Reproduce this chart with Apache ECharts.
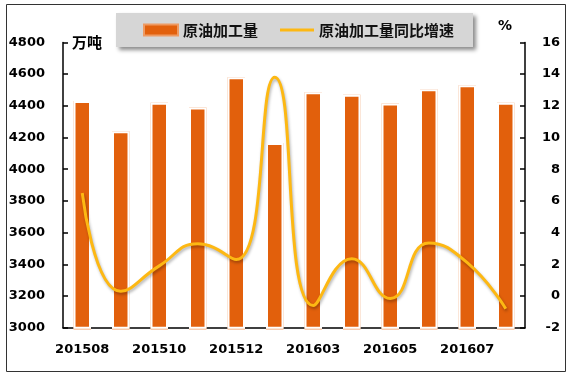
<!DOCTYPE html>
<html>
<head>
<meta charset="utf-8">
<script src="https://cdn.jsdelivr.net/npm/echarts@6/dist/echarts.min.js"></script>
<style>
html,body{margin:0;padding:0;background:#fff;}
#main{width:572px;height:382px;}
</style>
</head>
<body>
<div id="main"></div>
<script>
var categories = ['201508','201509','201510','201511','201512','201602','201603','201604','201605','201606','201607','201608'];
var volume = [4430, 4240, 4420, 4390, 4580, 4165, 4485, 4470, 4415, 4505, 4530, 4420];
var growth = [6.5, 0.3, 1.9, 3.3, 2.3, 13.8, -0.6, 2.35, -0.15, 3.35, 2.1, -0.8];
var volName = '原油加工量';
var growthName = '原油加工量同比增速';
var leftUnit = '万吨';
var rightUnit = '%';

var chart = echarts.init(document.getElementById('main'));
var numFont = {fontFamily: 'DejaVu Sans', fontWeight: 'bold', fontSize: 13, color: '#000'};
var cjk = '"Noto Sans CJK SC", sans-serif';
var dark = '#E2600C', light = '#EE9A62', lineC = '#FDB813';
var plain = function (v) { return String(v); };

chart.setOption({
  animation: false,
  backgroundColor: '#fff',
  grid: {left: 63, right: 47, top: 42.4, bottom: 54.3, containLabel: false, outerBoundsMode: 'none'},
  legend: {
    left: 116, top: 13,
    padding: [9.5, 19, 9.5, 27],
    backgroundColor: '#D6D6D6',
    shadowColor: 'rgba(0,0,0,0.45)', shadowBlur: 4, shadowOffsetX: 3, shadowOffsetY: 3,
    itemWidth: 34, itemHeight: 11, itemGap: 22,
    textStyle: {fontFamily: cjk, fontWeight: 'bold', fontSize: 15, color: '#111'},
    data: [
      {name: volName, icon: 'rect', itemStyle: {color: dark, borderColor: light, borderWidth: 2}},
      {name: growthName, icon: 'path://M0 0h34v3h-34z', itemStyle: {color: lineC}}
    ]
  },
  xAxis: [
    {type: 'category', data: categories,
     axisLine: {onZero: false, lineStyle: {color: '#000', width: 1.5}},
     axisTick: {show: false},
     axisLabel: Object.assign({interval: 1, margin: 15}, numFont)},
    {type: 'category', data: categories, show: false, axisLine: {onZero: false}}
  ],
  yAxis: [
    {type: 'value', min: 3000, max: 4800, interval: 200,
     axisLine: {show: true, lineStyle: {color: '#000', width: 1.5}},
     axisTick: {show: true, inside: true, length: 5, lineStyle: {color: '#000', width: 1.5}},
     splitLine: {show: false},
     axisLabel: Object.assign({margin: 18, formatter: plain}, numFont)},
    {type: 'value', min: -2, max: 16, interval: 2, position: 'right',
     axisLine: {show: true, lineStyle: {color: '#000', width: 1.5}},
     axisTick: {show: true, inside: true, length: 5, lineStyle: {color: '#000', width: 1.5}},
     splitLine: {show: false},
     axisLabel: Object.assign({margin: 35, align: 'right', formatter: plain}, numFont)}
  ],
  graphic: [
    {type: 'rect', shape: {x: 6.5, y: 4.5, width: 559, height: 367}, style: {fill: 'none', stroke: '#333', lineWidth: 1}, z: -10, silent: true},
    {type: 'text', left: 72, top: 35, style: {text: leftUnit, font: 'bold 15px ' + cjk, fill: '#000'}},
    {type: 'text', left: 498, top: 19, style: {text: rightUnit, font: 'bold 14px DejaVu Sans', fill: '#000'}}
  ],
  series: [
    {name: 'outline', type: 'bar', xAxisIndex: 1, yAxisIndex: 0, data: volume, barWidth: 17.5, z: 1,
     itemStyle: {color: light, borderColor: light, borderWidth: 3.5}},
    {name: volName, type: 'bar', xAxisIndex: 0, yAxisIndex: 0, data: volume, barWidth: 17.5, z: 2,
     itemStyle: {color: dark, borderColor: '#fff', borderWidth: 2}},
    {name: growthName, type: 'line', xAxisIndex: 0, yAxisIndex: 1, data: growth, smooth: 0.5,
     symbol: 'none', z: 5,
     lineStyle: {color: lineC, width: 3, shadowColor: 'rgba(0,0,0,0.3)', shadowBlur: 3, shadowOffsetX: 1, shadowOffsetY: 2},
     itemStyle: {color: lineC}}
  ]
});
</script>
</body>
</html>
